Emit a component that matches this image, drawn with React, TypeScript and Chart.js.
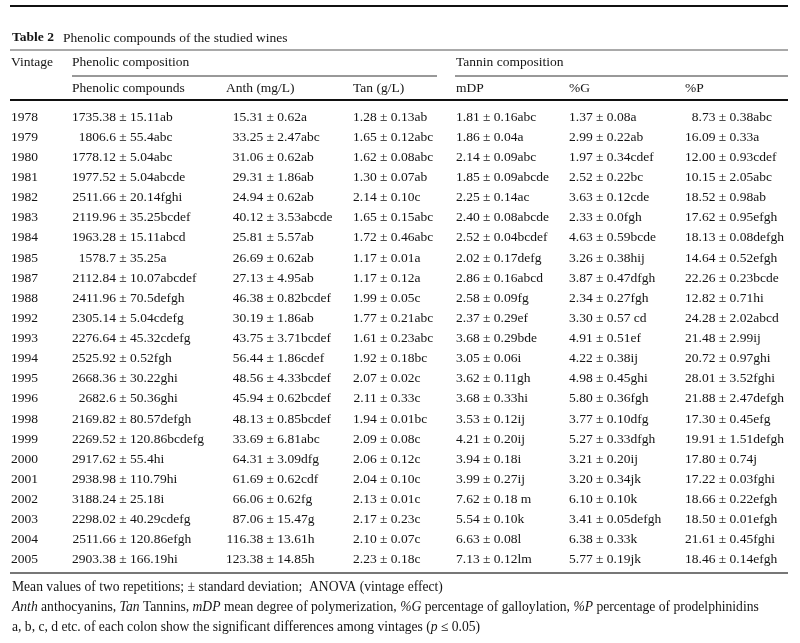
import React, { useEffect, useRef } from "react";
import { Chart, registerables } from "chart.js";

Chart.register(...registerables);

// ---------- DATA ----------
const vintages = ["1978","1979","1980","1981","1982","1983","1984","1985","1987","1988","1992","1993","1994","1995","1996","1998","1999","2000","2001","2002","2003","2004","2005"];

const phenolicMean = ["1735.38","1806.6","1778.12","1977.52","2511.66","2119.96","1963.28","1578.7","2112.84","2411.96","2305.14","2276.64","2525.92","2668.36","2682.6","2169.82","2269.52","2917.62","2938.98","3188.24","2298.02","2511.66","2903.38"];
const phenolicSd = ["15.11","55.4","5.04","5.04","20.14","35.25","15.11","35.25","10.07","70.5","5.04","45.32","0.52","30.22","50.36","80.57","120.86","55.4","110.79","25.18","40.29","120.86","166.19"];
const phenolicSig = ["ab","abc","abc","abcde","fghi","bcdef","abcd","a","abcdef","defgh","cdefg","cdefg","fgh","ghi","ghi","defgh","bcdefg","hi","hi","i","cdefg","efgh","hi"];

const anthMean = ["15.31","33.25","31.06","29.31","24.94","40.12","25.81","26.69","27.13","46.38","30.19","43.75","56.44","48.56","45.94","48.13","33.69","64.31","61.69","66.06","87.06","116.38","123.38"];
const anthSd = ["0.62","2.47","0.62","1.86","0.62","3.53","5.57","0.62","4.95","0.82","1.86","3.71","1.86","4.33","0.62","0.85","6.81","3.09","0.62","0.62","15.47","13.61","14.85"];
const anthSig = ["a","abc","ab","ab","ab","abcde","ab","ab","ab","bcdef","ab","bcdef","cdef","bcdef","bcdef","bcdef","abc","dfg","cdf","fg","g","h","h"];

const tanMean = ["1.28","1.65","1.62","1.30","2.14","1.65","1.72","1.17","1.17","1.99","1.77","1.61","1.92","2.07","2.11","1.94","2.09","2.06","2.04","2.13","2.17","2.10","2.23"];
const tanSd = ["0.13","0.12","0.08","0.07","0.10","0.15","0.46","0.01","0.12","0.05","0.21","0.23","0.18","0.02","0.33","0.01","0.08","0.12","0.10","0.01","0.23","0.07","0.18"];
const tanSig = ["ab","abc","abc","ab","c","abc","abc","a","a","c","abc","abc","bc","c","c","bc","c","c","c","c","c","c","c"];

const mdpMean = ["1.81","1.86","2.14","1.85","2.25","2.40","2.52","2.02","2.86","2.58","2.37","3.68","3.05","3.62","3.68","3.53","4.21","3.94","3.99","7.62","5.54","6.63","7.13"];
const mdpSd = ["0.16","0.04","0.09","0.09","0.14","0.08","0.04","0.17","0.16","0.09","0.29","0.29","0.06","0.11","0.33","0.12","0.20","0.18","0.27","0.18","0.10","0.08","0.12"];
const mdpSig = ["abc","a","abc","abcde","ac","abcde","bcdef","defg","abcd","fg","ef","bde","i","gh","hi","ij","ij","i","ij"," m","k","l","lm"];

const galloMean = ["1.37","2.99","1.97","2.52","3.63","2.33","4.63","3.26","3.87","2.34","3.30","4.91","4.22","4.98","5.80","3.77","5.27","3.21","3.20","6.10","3.41","6.38","5.77"];
const galloSd = ["0.08","0.22","0.34","0.22","0.12","0.0","0.59","0.38","0.47","0.27","0.57","0.51","0.38","0.45","0.36","0.10","0.33","0.20","0.34","0.10","0.05","0.33","0.19"];
const galloSig = ["a","ab","cdef","bc","cde","fgh","bcde","hij","dfgh","fgh"," cd","ef","ij","ghi","fgh","dfg","dfgh","ij","jk","k","defgh","k","jk"];

const prodelMean = ["8.73","16.09","12.00","10.15","18.52","17.62","18.13","14.64","22.26","12.82","24.28","21.48","20.72","28.01","21.88","17.30","19.91","17.80","17.22","18.66","18.50","21.61","18.46"];
const prodelSd = ["0.38","0.33","0.93","2.05","0.98","0.95","0.08","0.52","0.23","0.71","2.02","2.99","0.97","3.52","2.47","0.45","1.51","0.74","0.03","0.22","0.01","0.45","0.14"];
const prodelSig = ["abc","a","cdef","abc","ab","efgh","defgh","efgh","bcde","hi","abcd","ij","ghi","fghi","defgh","efg","defgh","j","fghi","efgh","efgh","fghi","efgh"];

const titleBold = "Table 2";
const titleText = "Phenolic compounds of the studied wines";
const groupHeaders = ["Phenolic composition", "Tannin composition"];
const columnHeaders = ["Vintage", "Phenolic compounds", "Anth (mg/L)", "Tan (g/L)", "mDP", "%G", "%P"];

// ---------- LAYOUT ----------
const W = 800;
const H = 643;
const COL_X = [11, 72, 226, 353, 456, 569, 685];
const LEFT = 11;
const RIGHT = 788;
const FONT = '"Liberation Serif", "Times New Roman", Times, serif';
const TEXT = "#141414";

type Run = [string, string];

function drawRuns(ctx: CanvasRenderingContext2D, x: number, y: number, runs: Run[]) {
  let cx = x;
  for (const [t, f] of runs) {
    ctx.font = f;
    ctx.fillText(t, cx, y);
    cx += ctx.measureText(t).width;
  }
}

function hline(ctx: CanvasRenderingContext2D, x1: number, x2: number, y: number, w: number, color: string) {
  ctx.save();
  ctx.strokeStyle = color;
  ctx.lineWidth = w;
  ctx.beginPath();
  ctx.moveTo(x1, y);
  ctx.lineTo(x2, y);
  ctx.stroke();
  ctx.restore();
}

const columns = [
  { mean: phenolicMean, sd: phenolicSd, sig: phenolicSig },
  { mean: anthMean, sd: anthSd, sig: anthSig },
  { mean: tanMean, sd: tanSd, sig: tanSig },
  { mean: mdpMean, sd: mdpSd, sig: mdpSig },
  { mean: galloMean, sd: galloSd, sig: galloSig },
  { mean: prodelMean, sd: prodelSd, sig: prodelSig },
];

const tablePlugin = {
  id: "tableText",
  afterDatasetsDraw(chart: any) {
    const ctx: CanvasRenderingContext2D = chart.ctx;
    const { top, bottom } = chart.chartArea;
    const ft = `13.5px ${FONT}`;
    const ftb = `bold 13.5px ${FONT}`;
    const f13 = `13.5px ${FONT}`;
    const fn = `13.6px ${FONT}`;
    const fni = `italic 13.6px ${FONT}`;
    ctx.save();
    ctx.fillStyle = TEXT;
    ctx.textBaseline = "middle";
    ctx.textAlign = "left";

    // header rules and titles
    hline(ctx, LEFT - 1, RIGHT, top - 101, 2, "#111");
    drawRuns(ctx, 12, top - 69, [[titleBold, ftb]]);
    ctx.font = ft;
    ctx.fillText(titleText, 63, top - 69);
    hline(ctx, LEFT - 1, RIGHT, top - 57, 1, "#555");
    ctx.font = f13;
    ctx.fillText(columnHeaders[0], COL_X[0], top - 45);
    ctx.fillText(groupHeaders[0], COL_X[1], top - 45);
    ctx.fillText(groupHeaders[1], COL_X[4], top - 45);
    hline(ctx, COL_X[1], 437, top - 31, 1, "#333");
    hline(ctx, COL_X[4] - 1, RIGHT, top - 31, 1, "#333");
    for (let c = 1; c < columnHeaders.length; c++) {
      ctx.fillText(columnHeaders[c], COL_X[c], top - 19);
    }
    hline(ctx, LEFT - 1, RIGHT, top - 7, 2, "#111");

    // cells, placed at the dataset elements
    chart.data.datasets.forEach((ds: any, d: number) => {
      const meta = chart.getDatasetMeta(d);
      ctx.font = f13;
      if (d === 0) {
        meta.data.forEach((el: any, i: number) => {
          ctx.textAlign = "left";
          ctx.fillText(vintages[i], el.x, el.y);
        });
        return;
      }
      const col = columns[d - 1];
      const maxW = Math.max(...col.mean.map((m) => ctx.measureText(m).width));
      meta.data.forEach((el: any, i: number) => {
        ctx.textAlign = "right";
        ctx.fillText(col.mean[i], el.x + maxW, el.y);
        ctx.textAlign = "left";
        ctx.fillText(" \u00b1 " + col.sd[i] + col.sig[i], el.x + maxW, el.y);
      });
    });

    // bottom rule & footnotes
    ctx.textAlign = "left";
    hline(ctx, LEFT - 1, RIGHT, bottom + 3, 2, "#777");
    drawRuns(ctx, 12, bottom + 17, [["Mean values of two repetitions; \u00b1 standard deviation;  ANOVA (vintage effect)", fn]]);
    drawRuns(ctx, 12, bottom + 37, [
      ["Anth", fni], [" anthocyanins, ", fn],
      ["Tan", fni], [" Tannins, ", fn],
      ["mDP", fni], [" mean degree of polymerization, ", fn],
      ["%G", fni], [" percentage of galloylation, ", fn],
      ["%P", fni], [" percentage of prodelphinidins", fn],
    ]);
    drawRuns(ctx, 12, bottom + 57, [
      ["a, b, c, d etc. of each colon show the significant differences among vintages (", fn],
      ["p", fni], [" \u2264 0.05)", fn],
    ]);
    ctx.restore();
  },
};

export default function App() {
  const ref = useRef<HTMLCanvasElement | null>(null);
  useEffect(() => {
    document.body.style.margin = "0";
    document.body.style.background = "#fff";
    const canvas = ref.current;
    if (!canvas) return;
    const idx = vintages.map((_, i) => i);
    const datasets = COL_X.map((x, c) => ({
      label: columnHeaders[c],
      data: idx.map((i) => ({ x, y: i })),
      pointRadius: 0,
      showLine: false,
    }));
    const chart = new Chart(canvas, {
      type: "scatter",
      data: { datasets },
      options: {
        animation: false,
        responsive: false,
        events: [],
        layout: { padding: { top: 107, bottom: H - 570, left: 0, right: 0 } },
        plugins: { legend: { display: false }, tooltip: { enabled: false } },
        scales: {
          x: { type: "linear", min: 0, max: W, display: false },
          y: { type: "linear", min: -0.5, max: vintages.length - 0.5, reverse: true, display: false },
        },
      },
      plugins: [tablePlugin],
    });
    return () => chart.destroy();
  }, []);
  return <canvas ref={ref} width={W} height={H} style={{ display: "block", width: W, height: H }} />;
}
